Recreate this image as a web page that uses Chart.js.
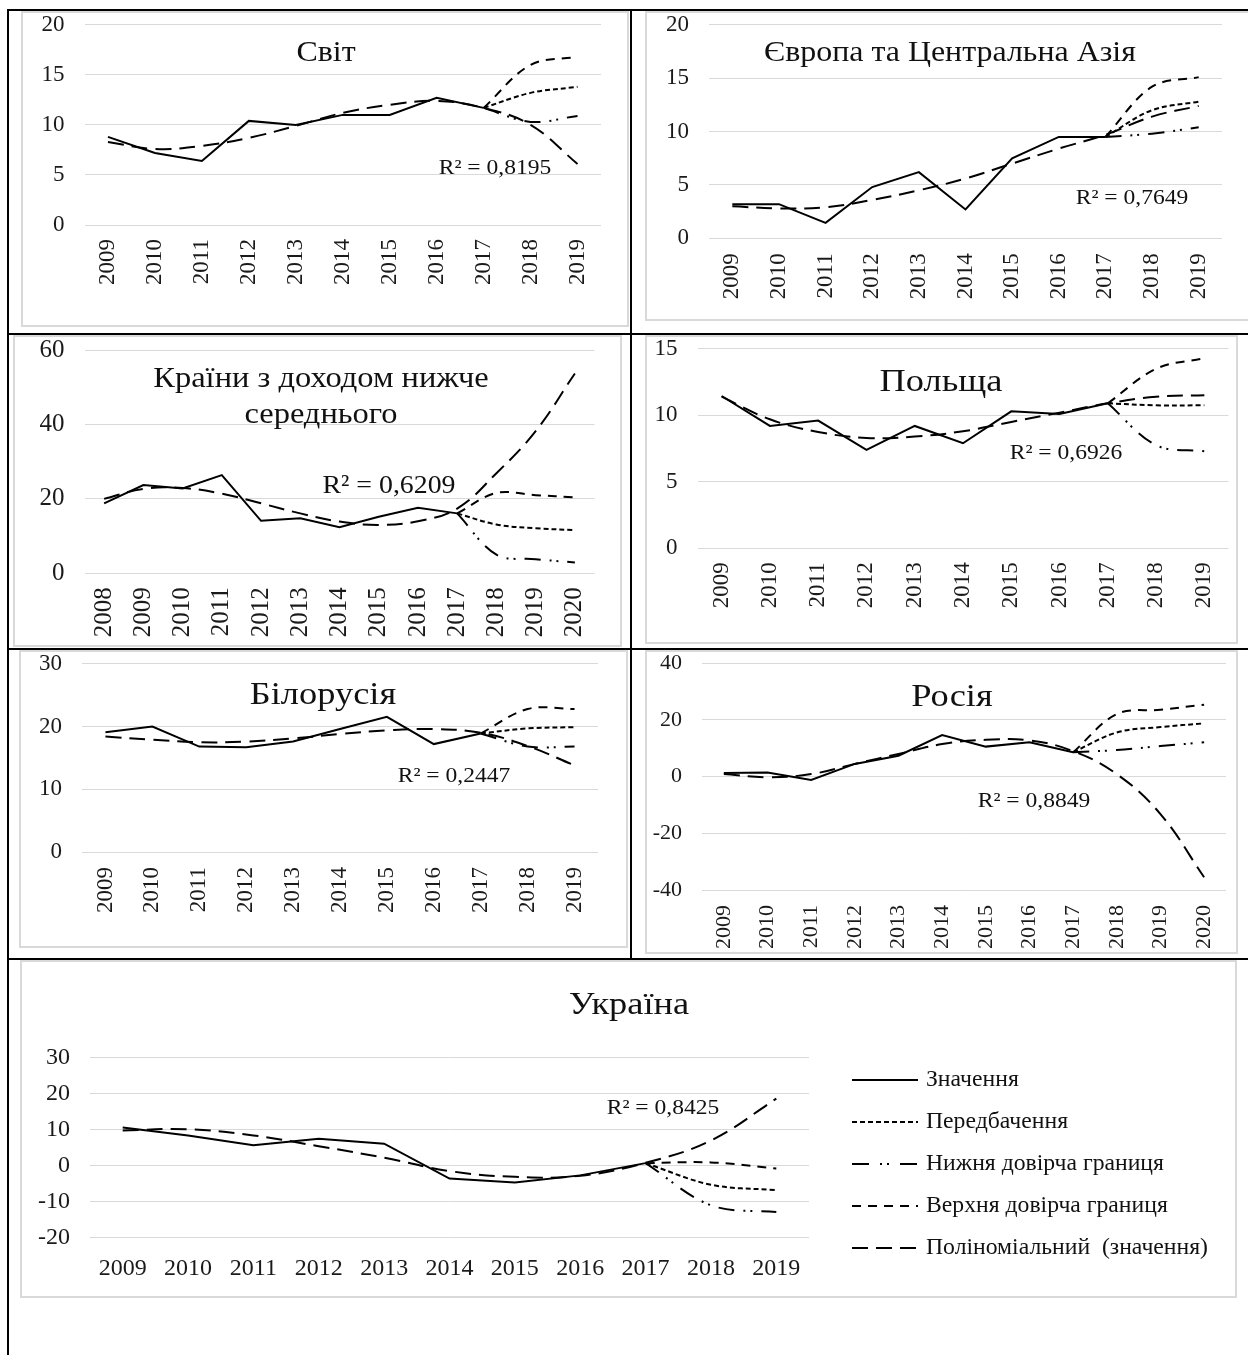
<!DOCTYPE html>
<html lang="uk">
<head>
<meta charset="UTF-8">
<title>Прогноз: Світ, Європа та Центральна Азія, Польща, Білорусія, Росія, Україна</title>
<script src="https://cdn.jsdelivr.net/npm/chart.js"></script>
<style>
    body { margin: 0; background: #fff; }
    #page { position: relative; width: 1248px; height: 1355px; overflow: hidden;
            font-family: "Liberation Serif", "Times New Roman", serif; }
    .rule { position: absolute; background: #000; }
    .frame { position: absolute; border: 2px solid #d9d9d9; box-sizing: border-box; }
    canvas { position: absolute; }
    .txt { position: absolute; white-space: nowrap; text-align: center;
           line-height: 1; color: #111; }
</style>
</head>
<body>
<div id="page"></div>

<script>
    // ---- дані ----
    const years0919 = ['2009','2010','2011','2012','2013','2014','2015','2016','2017','2018','2019'];
    const years0820 = ['2008','2009','2010','2011','2012','2013','2014','2015','2016','2017','2018','2019','2020'];
    const years0920 = ['2009','2010','2011','2012','2013','2014','2015','2016','2017','2018','2019','2020'];

    // Світ
    const svitValue    = [8.8, 7.2, 6.4, 10.4, 10.0, 11.0, 11.0, 12.7, 11.7, null, null];
    const svitForecast = [null, null, null, null, null, null, null, null, 11.7, 13.2, 13.8];
    const svitLower    = [null, null, null, null, null, null, null, null, 11.7, 10.3, 10.9];
    const svitUpper    = [null, null, null, null, null, null, null, null, 11.7, 16.0, 16.8];
    const svitTrend    = [8.3, 7.6, 7.9, 8.7, 9.9, 11.2, 12.0, 12.4, 11.7, 10.0, 6.1];

    // Європа та Центральна Азія
    const eucaValue    = [3.2, 3.2, 1.45, 4.8, 6.2, 2.7, 7.5, 9.5, 9.5, null, null];
    const eucaForecast = [null, null, null, null, null, null, null, null, 9.5, 12.0, 12.8];
    const eucaLower    = [null, null, null, null, null, null, null, null, 9.5, 9.8, 10.4];
    const eucaUpper    = [null, null, null, null, null, null, null, null, 9.5, 14.2, 15.1];
    const eucaTrend    = [3.0, 2.8, 2.9, 3.6, 4.5, 5.6, 7.0, 8.4, 9.7, 11.4, 12.4];

    // Країни з доходом нижче середнього
    const lmicValue    = [18.8, 23.7, 22.8, 26.4, 14.1, 14.8, 12.4, 15.2, 17.6, 16.1, null, null, null];
    const lmicForecast = [null, null, null, null, null, null, null, null, null, 16.1, 13.1, 12.1, 11.6];
    const lmicLower    = [null, null, null, null, null, null, null, null, null, 16.1, 5.0, 3.8, 2.9];
    const lmicUpper    = [null, null, null, null, null, null, null, null, null, 16.1, 21.6, 21.0, 20.4];
    const lmicTrend    = [20.0, 22.7, 22.9, 21.4, 18.8, 16.1, 13.9, 13.0, 14.0, 17.4, 26.9, 38.2, 53.7];

    // Польща
    const plValue    = [11.45, 9.2, 9.6, 7.4, 9.2, 7.9, 10.3, 10.1, 10.9, null, null];
    const plForecast = [null, null, null, null, null, null, null, null, 10.9, 10.75, 10.75];
    const plLower    = [null, null, null, null, null, null, null, null, 10.9, 7.75, 7.3];
    const plUpper    = [null, null, null, null, null, null, null, null, 10.9, 13.5, 14.3];
    const plTrend    = [11.4, 9.7, 8.75, 8.3, 8.4, 8.8, 9.5, 10.2, 10.9, 11.4, 11.5];

    // Білорусія
    const byValue    = [19.1, 20.0, 16.8, 16.7, 17.6, 19.6, 21.55, 17.2, 18.9, null, null];
    const byForecast = [null, null, null, null, null, null, null, null, 18.9, 19.7, 19.9];
    const byLower    = [null, null, null, null, null, null, null, null, 18.9, 16.8, 16.8];
    const byUpper    = [null, null, null, null, null, null, null, null, 18.9, 22.8, 22.8];
    const byTrend    = [18.4, 17.9, 17.5, 17.6, 18.1, 18.8, 19.4, 19.6, 19.0, 16.9, 13.8];

    // Росія
    const ruValue    = [1.3, 1.5, -1.2, 4.5, 7.4, 14.7, 10.6, 12.1, 8.6, null, null, null];
    const ruForecast = [null, null, null, null, null, null, null, null, 8.6, 15.6, 17.5, 18.8];
    const ruLower    = [null, null, null, null, null, null, null, null, 8.6, 9.4, 10.8, 12.1];
    const ruUpper    = [null, null, null, null, null, null, null, null, 8.6, 22.1, 23.6, 25.4];
    const ruTrend    = [0.9, -0.2, 0.9, 4.5, 8.0, 11.5, 13.0, 12.8, 9.0, 0.9, -13.2, -35.5];

    // Україна
    const uaValue    = [10.5, 8.3, 5.6, 7.4, 6.0, -3.7, -4.8, -2.8, 0.6, null, null];
    const uaForecast = [null, null, null, null, null, null, null, null, 0.6, -5.4, -6.9];
    const uaLower    = [null, null, null, null, null, null, null, null, 0.6, -11.1, -13.0];
    const uaUpper    = [null, null, null, null, null, null, null, null, 0.6, 0.8, -0.9];
    const uaTrend    = [9.7, 10.0, 8.3, 5.3, 2.1, -1.6, -3.2, -2.9, 0.7, 6.9, 18.5];

    const seriesNames = ['Значення', 'Передбачення', 'Нижня довірча границя',
                         'Верхня довірча границя', 'Поліноміальний  (значення)'];

    // ---- оформлення ----
    const page = document.getElementById('page');
    const serif = '"Liberation Serif", "Times New Roman", serif';
    Chart.defaults.font.family = serif;

    function addEl(cls, left, top, width, height) {
        const el = document.createElement('div');
        el.className = cls;
        Object.assign(el.style, { left: left + 'px', top: top + 'px', width: width + 'px', height: height + 'px' });
        page.appendChild(el);
        return el;
    }

    // текст із центром у (x, y), трохи розтягнутий по горизонталі, як в оригіналі
    function addText(html, x, y, size, stretch, lh) {
        const el = document.createElement('div');
        el.className = 'txt';
        el.innerHTML = html;
        Object.assign(el.style, {
            left: x + 'px', top: y + 'px', fontSize: size + 'px',
            transform: `translate(-50%, -50%) scaleX(${stretch})`
        });
        if (lh) el.style.lineHeight = lh + 'px';
        page.appendChild(el);
    }

    // таблиця
    addEl('rule', 7, 9, 1241, 2);
    addEl('rule', 7, 9, 2, 1346);
    addEl('rule', 630, 9, 2, 950);
    addEl('rule', 7, 333, 1241, 2);
    addEl('rule', 7, 648, 1241, 2);
    addEl('rule', 7, 958, 1241, 2);

    const styles = [
        { dash: [], tension: 0 },
        { dash: [5, 3], tension: 0.35 },
        { dash: [16, 9, 2, 5, 2, 9], tension: 0.35 },
        { dash: [9, 7], tension: 0.35 },
        { dash: [16, 8], tension: 0.4 }
    ];
    const legendDash = [[], [5, 3], [17, 11, 2, 5, 2, 11], [9, 7], [16, 8]];

    // легенда збоку (блок України): лінія зі штрихом серії + підпис
    const lineLegend = {
        id: 'lineLegend',
        afterDraw(chart, args, opts) {
            if (!opts.show) return;
            const ctx = chart.ctx;
            ctx.save();
            chart.data.datasets.forEach((d, i) => {
                const y = opts.top + i * opts.gap;
                ctx.setLineDash(legendDash[i]);
                ctx.lineWidth = 2;
                ctx.strokeStyle = '#000';
                ctx.beginPath();
                ctx.moveTo(opts.left, y);
                ctx.lineTo(opts.left + opts.width, y);
                ctx.stroke();
                ctx.setLineDash([]);
                ctx.save();
                ctx.translate(opts.left + opts.width + opts.textGap, y);
                ctx.scale(opts.stretch, 1);
                ctx.fillStyle = '#111';
                ctx.font = `${opts.size}px ${serif}`;
                ctx.textBaseline = 'middle';
                ctx.fillText(d.label, 0, 0);
                ctx.restore();
            });
            ctx.restore();
        }
    };

    function makePanel(p) {
        const [bl, bt, br, bb] = p.box;
        const [al, at, ar, ab] = p.area;
        addEl('frame', bl, bt, br - bl, bb - bt);

        const canvas = document.createElement('canvas');
        canvas.width = br - bl;
        canvas.height = bb - bt;
        canvas.style.left = bl + 'px';
        canvas.style.top = bt + 'px';
        page.appendChild(canvas);

        const yW = al - bl - 4;
        const xH = bb - ab - 4;
        const tickFont = { size: p.tick, family: serif };
        const pad = { left: 4, top: at - bt, right: br - ar, bottom: 4 };

        const datasets = p.series.map((data, i) => ({
            label: seriesNames[i],
            data: data,
            borderColor: '#000',
            backgroundColor: '#000',
            borderWidth: 2,
            borderDash: styles[i].dash,
            tension: styles[i].tension,
            pointRadius: 0,
            fill: false,
            spanGaps: false
        }));

        const chart = new Chart(canvas, {
            type: 'line',
            data: { labels: p.years, datasets },
            plugins: [lineLegend],
            options: {
                responsive: false,
                animation: false,
                events: [],
                layout: { padding: pad },
                plugins: {
                    tooltip: { enabled: false },
                    legend: { display: false },
                    lineLegend: p.legend || { show: false }
                },
                scales: {
                    x: {
                        offset: true,
                        grid: { display: false },
                        border: { display: false },
                        ticks: {
                            color: '#1a1a1a',
                            font: tickFont,
                            autoSkip: false,
                            minRotation: p.rot,
                            maxRotation: p.rot,
                            padding: p.xPad
                        },
                        afterFit(s) { s.height = xH; }
                    },
                    y: {
                        min: p.yMin,
                        max: p.yMax,
                        // відступ підписів робимо невидимими рисками, щоб не зсувати верх області
                        ticks: { stepSize: p.step, color: '#1a1a1a', font: tickFont, padding: 0 },
                        grid: { color: '#d9d9d9', lineWidth: 1, drawTicks: true, tickLength: 20,
                                tickColor: 'rgba(0,0,0,0)' },
                        border: { display: false },
                        afterFit(s) { s.width = yW; }
                    }
                }
            }
        });

        // підганяємо область побудови під потрібне місце
        for (let k = 0; k < 2; k++) {
            const ca = chart.chartArea;
            pad.left += (al - bl) - ca.left;
            pad.top += (at - bt) - ca.top;
            pad.right += ca.right - (ar - bl);
            pad.bottom += ca.bottom - (ab - bt);
            chart.update();
        }

        p.titles.forEach(t => addText(t.text, t.x, t.y, t.size, 1.12, t.lh));
        addText(p.r2.text, p.r2.x, p.r2.y, p.r2.size, 1.07);
    }

    makePanel({
        years: years0919,
        series: [svitValue, svitForecast, svitLower, svitUpper, svitTrend],
        box: [21, 11, 629, 327], area: [84.5, 24.3, 601, 225],
        yMin: 0, yMax: 20, step: 5, tick: 23, rot: 90, xPad: 6,
        titles: [{ text: 'Світ', x: 326, y: 52, size: 28.5 }],
        r2: { text: 'R² = 0,8195', x: 495, y: 167, size: 22 }
    });

    makePanel({
        years: years0919,
        series: [eucaValue, eucaForecast, eucaLower, eucaUpper, eucaTrend],
        box: [645, 11, 1250, 321], area: [709, 24.3, 1222, 238.3],
        yMin: 0, yMax: 20, step: 5, tick: 23, rot: 90, xPad: 7,
        titles: [{ text: 'Європа та Центральна Азія', x: 950, y: 52, size: 28.5 }],
        r2: { text: 'R² = 0,7649', x: 1132, y: 197, size: 22 }
    });

    makePanel({
        years: years0820,
        series: [lmicValue, lmicForecast, lmicLower, lmicUpper, lmicTrend],
        box: [13, 335, 622, 647], area: [84.5, 350, 594.5, 573.3],
        yMin: 0, yMax: 60, step: 20, tick: 25, rot: 90, xPad: 6,
        titles: [{ text: 'Країни з доходом нижче<br>середнього', x: 321, y: 395, size: 29, lh: 36 }],
        r2: { text: 'R² = 0,6209', x: 389, y: 485, size: 26 }
    });

    makePanel({
        years: years0919,
        series: [plValue, plForecast, plLower, plUpper, plTrend],
        box: [645, 335, 1238, 644], area: [697.5, 348.3, 1237, 548.3],
        yMin: 0, yMax: 15, step: 5, tick: 23, rot: 90, xPad: 6,
        titles: [{ text: 'Польща', x: 941, y: 380, size: 32.5 }],
        r2: { text: 'R² = 0,6926', x: 1066, y: 452, size: 22 }
    });

    makePanel({
        years: years0919,
        series: [byValue, byForecast, byLower, byUpper, byTrend],
        box: [19, 650, 628, 948], area: [82, 662.7, 598, 852],
        yMin: 0, yMax: 30, step: 10, tick: 23, rot: 90, xPad: 7,
        titles: [{ text: 'Білорусія', x: 323, y: 693, size: 32.5 }],
        r2: { text: 'R² = 0,2447', x: 454, y: 775, size: 22 }
    });

    makePanel({
        years: years0920,
        series: [ruValue, ruForecast, ruLower, ruUpper, ruTrend],
        box: [645, 650, 1238, 954], area: [702, 663.3, 1226, 890],
        yMin: -40, yMax: 40, step: 20, tick: 22, rot: 90, xPad: 7,
        titles: [{ text: 'Росія', x: 952, y: 695, size: 32.5 }],
        r2: { text: 'R² = 0,8849', x: 1034, y: 800, size: 22 }
    });

    makePanel({
        years: years0919,
        series: [uaValue, uaForecast, uaLower, uaUpper, uaTrend],
        box: [20, 960, 1237, 1298], area: [90, 1057.3, 809, 1237.3],
        yMin: -20, yMax: 30, step: 10, tick: 24, rot: 0, xPad: 9,
        legend: { show: true, left: 832, top: 120, gap: 42, width: 66, textGap: 8, size: 23, stretch: 1.03 },
        titles: [{ text: 'Україна', x: 629, y: 1003, size: 32.5 }],
        r2: { text: 'R² = 0,8425', x: 663, y: 1107, size: 22 }
    });
</script>
</body>
</html>
